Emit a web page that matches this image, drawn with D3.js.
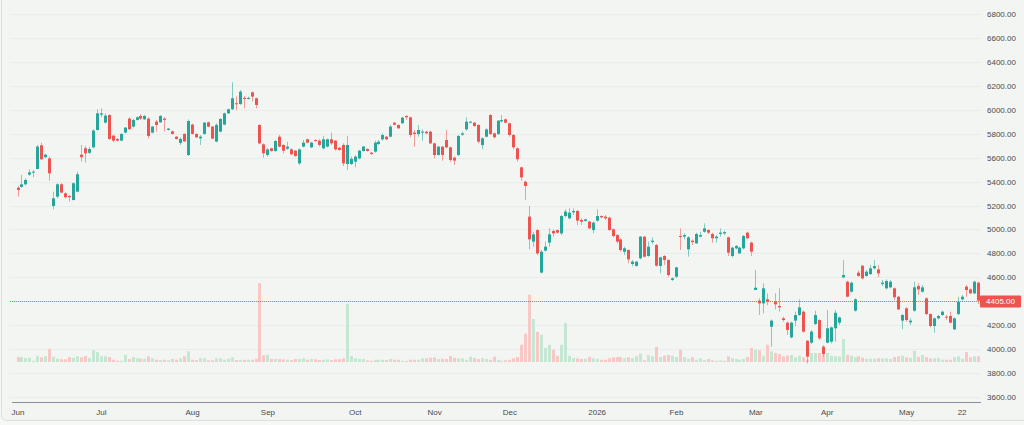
<!DOCTYPE html>
<html>
<head>
<meta charset="utf-8">
<script src="https://cdn.jsdelivr.net/npm/d3@7"></script>
<style>
    html, body { margin: 0; padding: 0; background: #f6f8f6; }
    svg { display: block; font-family: "Liberation Sans", Arial, sans-serif; }
</style>
</head>
<body>
<svg id="chart" width="1024" height="425"></svg>
<script>
"use strict";

// daily candles, Jun 2025 -> May 2026
const opens = [5349,5355,5377,5458,5475,5505,5703,5603,5594,5196,5274,5377,5302,5280,5246,5316,5625,5678,5640,5686,
    5831,5959,5892,5956,5784,5756,5742,5809,5926,5859,5915,5948,5920,5926,5809,5901,5895,5926,5831,5820,
    5775,5723,5798,5622,5876,5798,5761,5798,5895,5859,5734,5817,5876,5970,6004,6054,6048,6099,6090,6146,
    6096,5873,5711,5622,5678,5655,5775,5706,5675,5669,5658,5552,5692,5753,5686,5747,5742,5678,5692,5753,
    5742,5683,5706,5547,5547,5566,5594,5655,5672,5641,5650,5714,5753,5775,5775,5892,5873,5887,5948,5937,
    5809,5797,5809,5817,5817,5719,5622,5692,5747,5686,5600,5622,5792,5836,5892,5892,5873,5705,5775,5956,
    5803,5797,5903,5920,5887,5789,5678,5519,5399,5107,4898,4995,4639,4823,4890,4987,4995,4967,5112,5093,
    5143,5154,5079,5071,5065,4995,5073,5112,5107,5098,5001,4953,4917,4814,4828,4711,4695,4759,4940,4778,
    4895,4870,4695,4778,4745,4578,4605,4945,4940,4834,4906,4884,4940,4981,4995,4962,4926,4962,4967,4934,
    4778,4842,4800,4842,4973,4890,4494,4405,4382,4416,4187,4396,4360,4257,4221,4098,4238,4285,4313,4070,
    4054,4210,4243,4020,4054,4062,4174,4221,4600,4563,4480,4321,4639,4697,4611,4627,4675,4666,4544,4508,
    4516,4508,4438,4238,4341,4224,4321,4527,4480,4424,4293,4193,4257,4285,4271,4277,4165,4293,4416,4522,
    4499,4466,4555];
const highs = [5363,5455,5427,5502,5497,5706,5725,5630,5608,5316,5386,5386,5310,5288,5391,5483,5706,5697,5690,5837,
    6004,6012,5970,5962,5789,5762,5803,5856,5937,5923,5945,5962,5956,5937,5865,5915,5956,5937,5848,5826,
    5781,5770,5803,5920,5884,5803,5789,5898,5901,5865,5887,5929,5976,6010,6229,6110,6165,6115,6110,6151,
    6101,5878,5719,5678,5683,5745,5789,5711,5733,5678,5664,5675,5747,5759,5731,5753,5753,5781,5759,5809,
    5747,5689,5719,5781,5608,5622,5664,5697,5678,5647,5742,5747,5803,5781,5873,5898,5878,5940,5956,5942,
    5831,5873,5836,5823,5825,5725,5697,5697,5831,5692,5608,5789,5817,5937,5906,5898,5878,5770,5845,5964,
    5809,5914,5956,5928,5892,5797,5686,5524,5408,5196,4981,5001,4828,4898,5009,5001,5001,5121,5168,5176,
    5176,5163,5093,5090,5073,5065,5168,5118,5121,5107,5009,4962,4926,4856,4834,4745,4736,4945,4945,4898,
    4934,4878,4772,4786,4750,4600,4689,5009,4967,4945,4917,4973,4981,5051,5001,4973,4953,5009,4990,4940,
    4856,4870,4856,4953,4981,4898,4661,4424,4550,4466,4249,4466,4508,4271,4229,4229,4313,4416,4321,4076,
    4160,4321,4249,4034,4327,4187,4327,4271,4744,4572,4563,4424,4655,4703,4661,4703,4744,4703,4577,4583,
    4577,4516,4444,4293,4349,4257,4563,4550,4536,4433,4299,4265,4285,4321,4285,4313,4265,4438,4452,4536,
    4508,4572,4563];
const lows = [5274,5347,5369,5447,5436,5503,5580,5600,5408,5168,5260,5302,5260,5232,5241,5310,5567,5558,5630,5678,
    5826,5937,5887,5748,5728,5737,5737,5803,5831,5851,5909,5915,5915,5761,5803,5817,5890,5817,5826,5792,
    5750,5706,5730,5614,5792,5764,5706,5792,5853,5753,5728,5812,5870,5965,5998,5998,6040,6012,6085,6068,
    6012,5714,5600,5608,5650,5650,5686,5636,5664,5619,5608,5538,5686,5720,5680,5733,5692,5669,5686,5706,
    5658,5658,5530,5497,5538,5519,5586,5650,5650,5625,5641,5706,5742,5747,5770,5870,5840,5882,5915,5770,
    5692,5775,5742,5797,5714,5594,5617,5575,5678,5566,5538,5614,5781,5825,5887,5859,5719,5669,5770,5789,
    5761,5789,5892,5887,5775,5669,5566,5408,5246,4834,4856,4786,4633,4814,4856,4940,4967,4953,5101,5084,
    5121,5037,5037,5065,5001,4967,5065,5093,5079,4990,4934,4884,4814,4786,4717,4695,4689,4750,4767,4772,
    4878,4689,4633,4703,4605,4570,4592,4828,4917,4772,4870,4878,4934,4973,4962,4889,4889,4940,4953,4778,
    4767,4834,4795,4834,4917,4778,4494,4285,4299,4368,4020,4332,4313,4229,4118,4090,4193,4277,4137,3881,
    4043,4201,4076,3937,4048,4048,4062,4201,4591,4433,4472,4313,4605,4583,4605,4619,4666,4600,4527,4499,
    4508,4410,4327,4165,4229,4201,4313,4452,4472,4285,4182,4137,4249,4277,4243,4215,4160,4285,4405,4438,
    4460,4460,4377];
const closes = [5330,5377,5413,5477,5483,5692,5586,5625,5469,5260,5377,5308,5269,5269,5386,5461,5603,5636,5672,5826,
    5970,5970,5951,5756,5742,5742,5798,5851,5837,5915,5937,5926,5948,5781,5859,5873,5948,5915,5842,5798,
    5756,5756,5736,5906,5798,5770,5775,5892,5859,5759,5873,5923,5970,6004,6096,6046,6151,6090,6099,6110,
    6040,5719,5636,5669,5655,5739,5692,5658,5692,5628,5614,5669,5725,5725,5725,5739,5706,5753,5753,5719,
    5669,5664,5552,5706,5589,5608,5658,5692,5655,5630,5725,5733,5789,5753,5859,5875,5845,5934,5937,5789,
    5797,5831,5817,5803,5719,5622,5692,5622,5686,5580,5575,5781,5803,5900,5900,5864,5733,5761,5836,5797,
    5770,5909,5914,5892,5789,5686,5586,5435,5363,4917,4959,4800,4814,4856,4959,4967,4973,5112,5149,5140,
    5154,5073,5065,5084,5009,5057,5112,5101,5093,4995,4945,4898,4828,4842,4750,4731,4731,4940,4772,4856,
    4906,4697,4767,4745,4619,4592,4683,4940,4953,4934,4895,4962,4953,5009,4973,4926,4940,4973,4978,4806,
    4848,4862,4848,4945,4926,4814,4513,4382,4508,4396,4238,4374,4349,4243,4160,4221,4285,4349,4146,3937,
    4146,4285,4090,3959,4174,4182,4304,4265,4619,4438,4555,4416,4611,4591,4647,4675,4694,4633,4555,4569,
    4563,4433,4332,4285,4243,4238,4516,4499,4516,4293,4193,4257,4277,4313,4263,4221,4257,4396,4438,4494,
    4466,4563,4405];
const volumes = [50,50,40,43,13,57,47,57,133,53,33,27,27,50,43,57,47,60,40,117,
    100,57,57,50,23,13,13,73,30,50,37,33,33,57,37,23,20,23,17,30,
    23,37,57,107,23,20,37,37,17,17,37,37,23,33,47,20,20,23,23,23,
    33,790,67,73,30,30,30,27,23,20,30,30,37,23,30,27,20,23,27,20,
    27,30,37,583,60,37,30,30,17,13,23,23,23,20,30,23,23,13,10,23,
    23,23,37,37,43,47,30,33,30,60,43,37,37,23,53,40,30,37,30,23,
    53,23,13,17,23,37,50,173,283,673,430,300,273,140,173,123,63,173,390,63,
    40,37,30,33,50,37,30,23,23,37,47,50,50,37,47,40,57,83,17,67,
    57,150,50,63,70,63,50,123,50,33,47,23,37,20,30,17,13,17,13,57,
    40,30,23,33,50,140,123,117,63,173,107,90,80,57,63,70,47,63,47,23,
    90,90,90,73,90,63,57,57,230,73,63,47,57,43,33,33,33,37,37,37,
    30,50,57,63,47,43,113,50,70,50,37,37,40,23,23,23,47,57,33,100,
    47,57,57];

const firstSession = "2025-06-02";
const holidays = ["2025-08-15", "2025-08-27", "2025-10-02", "2025-10-21", "2025-10-22", "2025-11-05",
    "2025-12-25", "2026-01-15", "2026-01-26", "2026-03-03", "2026-03-19", "2026-03-26", "2026-03-31",
    "2026-04-03", "2026-04-14", "2026-05-01"];
const tickLabels = ["Jun", "Jul", "Aug", "Sep", "Oct", "Nov", "Dec", "2026", "Feb", "Mar", "Apr", "May", "22"];
const tickDates = ["2025-06-02", "2025-07-01", "2025-08-01", "2025-09-01", "2025-10-01", "2025-11-03",
    "2025-12-01", "2026-01-01", "2026-02-02", "2026-03-02", "2026-04-01", "2026-05-04", "2026-05-22"];
const priceTicks = [3600, 3800, 4000, 4200, 4400, 4600, 4800, 5000, 5200, 5400, 5600, 5800, 6000, 6200, 6400, 6600, 6800];
const lastPrice = 4405;

const COLORS = {
    up: "#26a69a",
    down: "#ef5350",
    volUp: "#c5e6d3",
    volDown: "#f8c8c7",
    grid: "#e9ecea",
    text: "#4a4a4a",
    axis: "#8e8ca0"
};

const fmt = d3.utcFormat("%Y-%m-%d");
const parse = d3.utcParse("%Y-%m-%d");

/**
 * Builds the list of session dates, one per candle, skipping weekends and holidays.
 */
const buildSessions = (count) => {
    const out = [];
    let d = parse(firstSession);
    while (out.length < count) {
        const wd = d.getUTCDay();
        if (wd !== 0 && wd !== 6 && !holidays.includes(fmt(d))) {
            out.push(fmt(d));
        }
        d = d3.utcDay.offset(d, 1);
    }
    return out;
};

const sessions = buildSessions(opens.length);
const candles = sessions.map((date, i) => ({
    i,
    date,
    o: opens[i],
    h: highs[i],
    l: lows[i],
    c: closes[i],
    v: volumes[i],
    up: closes[i] >= opens[i]
}));

const svg = d3.select("#chart");
const W = 1024;

const x = d3.scaleLinear().domain([0, candles.length - 1]).range([18, 978]);
const y = d3.scaleLinear().domain([3600, 6800]).range([397, 14]);
const yVol = d3.scaleLinear().domain([0, 1000]).range([362, 262]);
const barW = 3;
const px = (d) => Math.round(x(d.i) - barW / 2);

// panel
svg.append("rect")
    .attr("x", 1.5).attr("y", -10)
    .attr("width", W + 10).attr("height", 430.5)
    .attr("rx", 5)
    .attr("fill", "#f2f5f2")
    .attr("stroke", "#dcdfdd");

// horizontal grid
svg.append("g")
    .selectAll("line")
    .data(priceTicks)
    .enter()
    .append("line")
    .attr("x1", 10).attr("x2", 981)
    .attr("y1", (d) => Math.round(y(d)) + 0.5)
    .attr("y2", (d) => Math.round(y(d)) + 0.5)
    .attr("stroke", COLORS.grid);

// volume bars
svg.append("g")
    .selectAll("rect")
    .data(candles)
    .enter()
    .append("rect")
    .attr("x", px)
    .attr("y", (d) => yVol(d.v))
    .attr("width", barW)
    .attr("height", (d) => yVol(0) - yVol(d.v))
    .attr("fill", (d) => (d.up ? COLORS.volUp : COLORS.volDown));

// last price line (drawn as tiny red dots)
const lpY = Math.round(y(lastPrice));
svg.append("g")
    .selectAll("rect")
    .data(d3.range(10, 980, 2))
    .enter()
    .append("rect")
    .attr("x", (d) => d)
    .attr("y", lpY)
    .attr("width", 1)
    .attr("height", 1)
    .attr("fill", "#ef6f6c");

// candles
const cg = svg.append("g")
    .selectAll("g")
    .data(candles)
    .enter()
    .append("g");
cg.append("line")
    .attr("x1", (d) => px(d) + 1.5)
    .attr("x2", (d) => px(d) + 1.5)
    .attr("y1", (d) => y(d.h))
    .attr("y2", (d) => y(d.l))
    .attr("stroke", (d) => (d.up ? COLORS.up : COLORS.down))
    .attr("stroke-opacity", 0.55);
cg.append("rect")
    .attr("x", px)
    .attr("y", (d) => y(Math.max(d.o, d.c)))
    .attr("width", barW)
    .attr("height", (d) => Math.max(1, Math.abs(y(d.o) - y(d.c))))
    .attr("fill", (d) => (d.up ? COLORS.up : COLORS.down));

// time axis
svg.append("line")
    .attr("x1", 12).attr("x2", 981)
    .attr("y1", 402.5).attr("y2", 402.5)
    .attr("stroke", COLORS.axis);
svg.append("g")
    .selectAll("text")
    .data(tickLabels)
    .enter()
    .append("text")
    .attr("x", (d, k) => x(sessions.indexOf(tickDates[k])))
    .attr("y", 415)
    .attr("text-anchor", "middle")
    .attr("font-size", 8)
    .attr("fill", COLORS.text)
    .text((d) => d);

// price axis
svg.append("g")
    .selectAll("text")
    .data(priceTicks)
    .enter()
    .append("text")
    .attr("x", 987)
    .attr("y", (d) => y(d) + 3)
    .attr("font-size", 8)
    .attr("fill", COLORS.text)
    .text((d) => d3.format(".2f")(d));

// last price tag
const tag = svg.append("g");
tag.append("rect")
    .attr("x", 980).attr("y", lpY - 5.5)
    .attr("width", 41).attr("height", 12)
    .attr("rx", 1)
    .attr("fill", COLORS.down);
tag.append("text")
    .attr("x", 1000.5).attr("y", y(lastPrice) + 3.5)
    .attr("text-anchor", "middle")
    .attr("font-size", 8)
    .attr("fill", "#fff")
    .text(d3.format(".2f")(lastPrice));
</script>
</body>
</html>
